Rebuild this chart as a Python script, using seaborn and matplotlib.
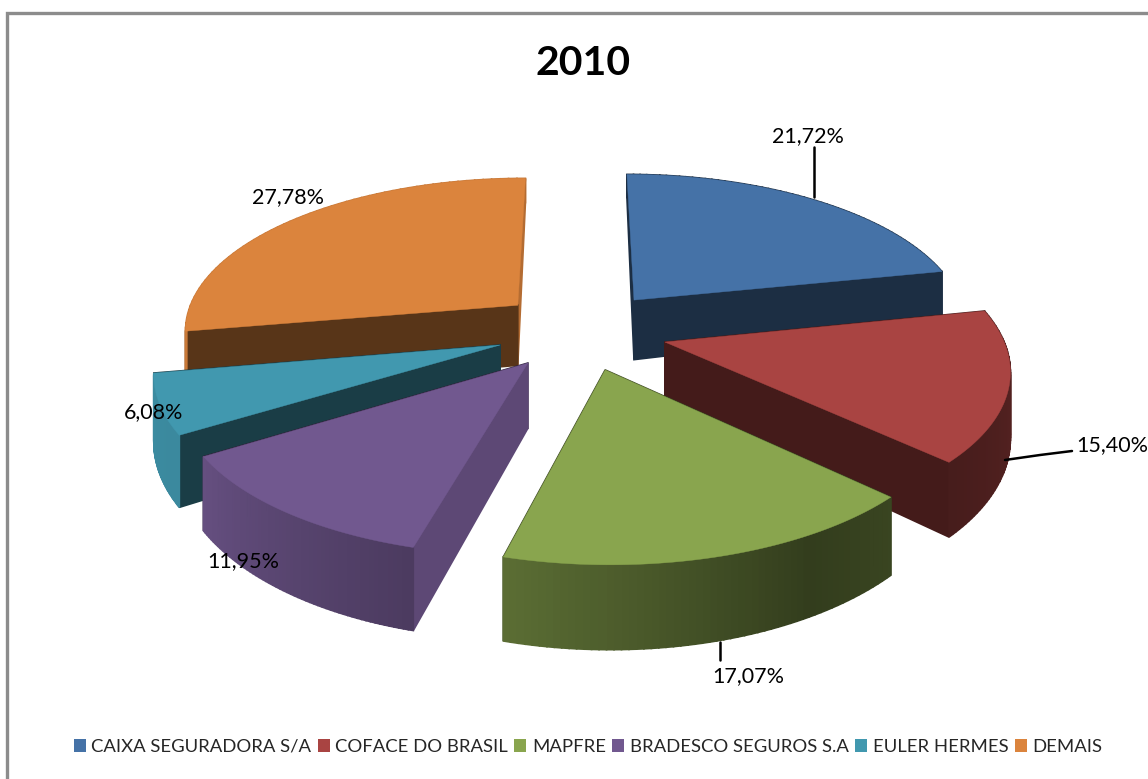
import numpy as np
import matplotlib
matplotlib.use("Agg")
import matplotlib.pyplot as plt
from matplotlib.patches import Patch
import seaborn as sns

# ---- data ----
categories = ["CAIXA SEGURADORA S/A", "COFACE DO BRASIL", "MAPFRE",
              "BRADESCO SEGUROS S.A", "EULER HERMES", "DEMAIS"]
shares = [21.72, 15.40, 17.07, 11.95, 6.08, 27.78]
value_labels = ["21,72%", "15,40%", "17,07%", "11,95%", "6,08%", "27,78%"]
title = "2010"

# ---- style / layout ----
sns.set_theme(style="white")
plt.rcParams["font.family"] = ["Lato", "DejaVu Sans"]
colors = sns.color_palette(["#4572A7", "#A94442", "#89A54E", "#71588F", "#4198AF", "#DB843D"])
explode_u = [0.172, 0.256, 0.078, -0.145, -0.229, -0.184]
explode_v = [0.254, -0.026, -0.20, -0.158, -0.045, 0.218]
CX, CY, RX, RY, K = 578, 338, 338, 155, 0.15
label_xy = [(808, 136), (1112, 445), (748, 676), (243, 561), (154, 412), (288, 197)]
leaders = [[(814, 147), (814, 197)], [(1005, 460), (1040, 455), (1072, 451)], [(720, 642), (720, 660)]]


def project(u, v):
    s = 1.0 / (1.0 + K * v)
    return CX + RX * u * s, CY - RY * v * s


def drop(v):
    s = 1.0 / (1.0 + K * v)
    return 63 * s ** 1.5 * np.where(v > 0.3, 1 - (v - 0.3) * 0.55, 1.0)


def arc_shade(a):
    return np.interp(a, [60, 100, 133, 150, 195, 238, 262, 360],
                     [0.40, 0.50, 0.42, 0.37, 0.67, 0.90, 0.92, 0.9])


def radial_shade(normal):
    normal = normal % 360
    return 0.82 if 90 <= normal <= 125 else 0.40


fig = plt.figure(figsize=(11.48, 7.79), dpi=100)
ax = fig.add_axes([0, 0, 1, 1])
ax.set_xlim(0, 1148)
ax.set_ylim(779, 0)
ax.axis("off")

# chart frame
ax.plot([7, 7, 1148], [779, 13, 13], color="#8C8C8C", lw=2.4, solid_joinstyle="miter", zorder=0)

ends = np.cumsum(shares) / np.sum(shares) * 360.0
starts = np.r_[0, ends[:-1]]
draw_order = [5, 0, 4, 1, 3, 2]
z = 1
for i in draw_order:
    a0, a1 = starts[i], ends[i]
    col = np.array(colors[i])
    theta = np.linspace(a0, a1, 60)
    rad = np.radians(theta)
    u = explode_u[i] + np.sin(rad)
    v = explode_v[i] + np.cos(rad)
    px, py = project(u, v)
    ax0, ay0 = project(explode_u[i], explode_v[i])
    d = drop(v)
    d0 = drop(np.array(explode_v[i]))
    quads = []
    for j in range(len(theta) - 1):
        q = ([px[j], px[j + 1], px[j + 1], px[j]],
             [py[j], py[j + 1], py[j + 1] + d[j + 1], py[j] + d[j]])
        quads.append((v[j], q, col * arc_shade(theta[j])))
    for end_idx, normal in ((0, a0 - 90), (-1, a1 + 90)):
        q = ([ax0, px[end_idx], px[end_idx], ax0],
             [ay0, py[end_idx], py[end_idx] + d[end_idx], ay0 + d0])
        quads.append((explode_v[i] + np.cos(rad[end_idx]) / 2, q, col * radial_shade(normal)))
    for _, q, c in sorted(quads, key=lambda t: -t[0]):
        ax.fill(q[0], q[1], color=tuple(c), lw=1.2, zorder=z)
    ax.fill(np.r_[ax0, px], np.r_[ay0, py], color=tuple(col), lw=0.3, zorder=z + 1)
    z += 2

for pts in leaders:
    xs, ys = zip(*pts)
    ax.plot(xs, ys, color="black", lw=1.8, zorder=30)

for (x, y), s in zip(label_xy, value_labels):
    ax.text(x, y, s, ha="center", va="center", fontsize=15.5, color="black", zorder=40)

ax.text(583, 63, title, ha="center", va="center", fontsize=29.5, fontweight="bold", color="black", zorder=40)

handles = [Patch(facecolor=c, edgecolor="none", label=n) for c, n in zip(colors, categories)]
ax.legend(handles=handles, loc="center", bbox_to_anchor=(588 / 1148, 1 - 747 / 779), ncol=6,
          frameon=False, fontsize=13.3, handlelength=0.65, handleheight=0.65,
          handletextpad=0.3, columnspacing=0.35, borderpad=0)

fig.savefig("out.png", dpi=100)
